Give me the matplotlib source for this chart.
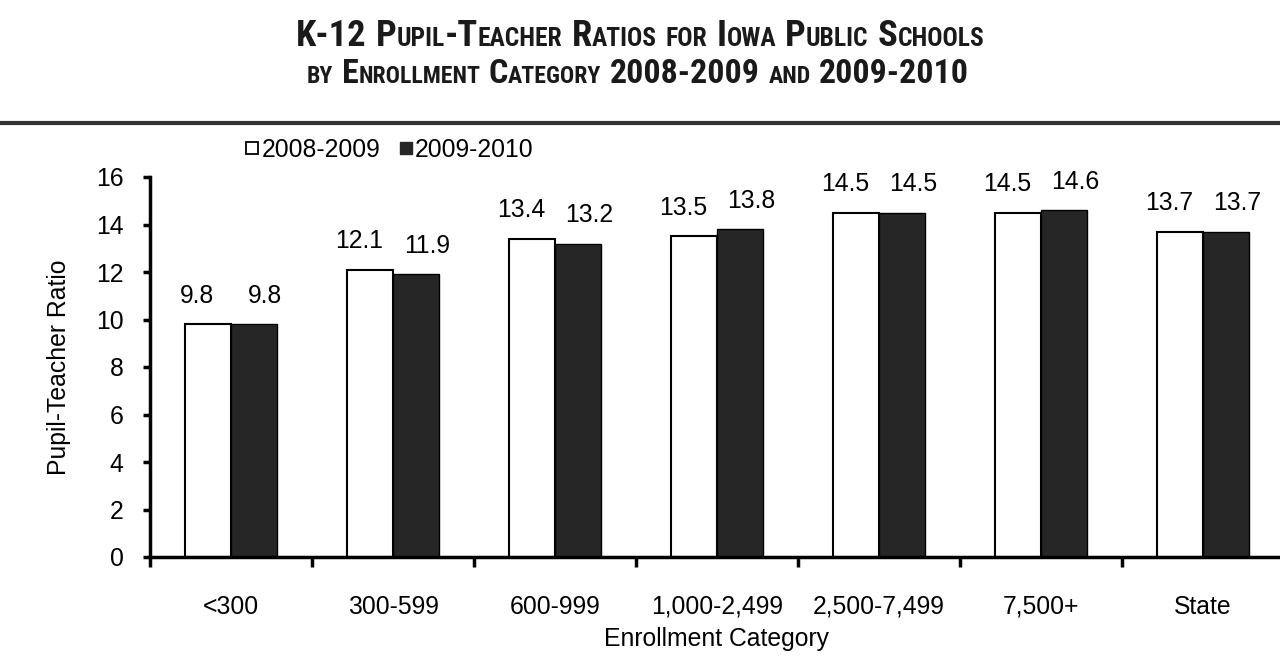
import matplotlib
matplotlib.use("Agg")
import matplotlib.pyplot as plt
import numpy as np
from matplotlib import font_manager
from matplotlib.font_manager import FontProperties
from matplotlib.lines import Line2D

categories = ["<300", "300-599", "600-999", "1,000-2,499", "2,500-7,499", "7,500+", "State"]
series_names = ["2008-2009", "2009-2010"]
vals_0809 = [9.8, 12.1, 13.4, 13.5, 14.5, 14.5, 13.7]
vals_0910 = [9.8, 11.9, 13.2, 13.8, 14.5, 14.6, 13.7]
yticks = [0, 2, 4, 6, 8, 10, 12, 14, 16]
title_lines = ["K-12 Pupil-Teacher Ratios for Iowa Public Schools",
               "by Enrollment Category 2008-2009 and 2009-2010"]

# pick a narrow bold font for the title if one exists
def find_narrow_bold():
    prefs = ["Liberation Sans Narrow", "Arial Narrow", "Roboto Condensed", "Open Sans Condensed",
             "Noto Sans Condensed", "DejaVu Sans Condensed", "DejaVu Sans"]
    cands = []
    for f in font_manager.fontManager.ttflist:
        w = f.weight if isinstance(f.weight, int) else (700 if "bold" in str(f.weight).lower() else 400)
        if w < 600 or "italic" in f.style or "oblique" in f.style:
            continue
        narrow = ("Narrow" in f.name or "Condensed" in f.name or
                  str(f.stretch) in ("condensed", "semi-condensed", "extra-condensed") or
                  "Condensed" in f.fname or "Narrow" in f.fname)
        if not narrow:
            continue
        rank = len(prefs)
        for i, p in enumerate(prefs):
            if f.name.startswith(p):
                rank = i
                break
        cands.append((rank, f.fname))
    if cands:
        cands.sort()
        return FontProperties(fname=cands[0][1])
    return FontProperties(family="Liberation Sans", weight="bold")

title_fp = find_narrow_bold()
body_font = "Liberation Sans"
plt.rcParams['font.family'] = [body_font, 'DejaVu Sans']

W, H = 1280, 671
fig = plt.figure(figsize=(W/100, H/100), dpi=100)
ax = fig.add_axes([150/W, 1-557/H, 1134/W, 380/H])

x = np.arange(len(categories))
bw = 0.285
dark = "#262626"
ax.bar(x - bw/2, vals_0809, width=bw, color="white", edgecolor="black", linewidth=1.5, zorder=2)
ax.bar(x + bw/2, vals_0910, width=bw, color=dark, edgecolor="black", linewidth=1.0, zorder=2)

fs = 17.8
for xi, v in zip(x - bw/2, vals_0809):
    ax.annotate(f"{v:.1f}", (xi, v), xytext=(-8, 12), textcoords="offset points",
                ha="center", va="bottom", fontsize=fs)
for xi, v in zip(x + bw/2, vals_0910):
    ax.annotate(f"{v:.1f}", (xi, v), xytext=(8, 12), textcoords="offset points",
                ha="center", va="bottom", fontsize=fs)

ax.set_xlim(-0.5, len(categories) - 0.5)
ax.set_ylim(0, 16)
ax.set_yticks(yticks)
ax.set_yticklabels([str(t) for t in yticks], fontsize=fs)
ax.set_xticks(np.arange(len(categories) + 1) - 0.5)
ax.set_xticklabels([])
ax.set_xticks(x, minor=True)
ax.set_xticklabels(categories, minor=True, fontsize=fs)
ax.tick_params(axis="x", which="minor", length=0, pad=27)
ax.tick_params(axis="x", which="major", length=7, width=2.5, direction="out")
ax.tick_params(axis="y", length=5, width=2.5, direction="out", pad=14)
for s in ["top", "right"]:
    ax.spines[s].set_visible(False)
ax.spines["left"].set_linewidth(2.5)
ax.spines["bottom"].set_linewidth(2.5)
ax.spines["bottom"].set_zorder(3)
ax.set_ylabel("Pupil-Teacher Ratio", fontsize=fs, labelpad=18)
ax.set_xlabel("Enrollment Category", fontsize=fs, labelpad=6)

handles = [Line2D([], [], marker="s", linestyle="none", markersize=8.8, markerfacecolor="white",
                  markeredgecolor="black", markeredgewidth=1.3),
           Line2D([], [], marker="s", linestyle="none", markersize=8.8, markerfacecolor=dark,
                  markeredgecolor=dark)]
fig.legend(handles, series_names, loc="center left", bbox_to_anchor=(246/W, 1-150/H), ncol=2,
           frameon=False, fontsize=fs, handlelength=0.5, handletextpad=0.12, columnspacing=0.8,
           borderaxespad=0, borderpad=0)

# small caps title, fitted to the reference width
renderer = fig.canvas.get_renderer()
ratio = 0.70

def measure(s, size):
    t = fig.text(0, 0, s, fontproperties=title_fp)
    t.set_fontsize(size)
    bb = t.get_window_extent(renderer=renderer)
    t.remove()
    return bb.width

def runs_of(text):
    runs = []
    for ch in text:
        if ch == " ":
            sz = None
            c = ch
        elif ch.islower():
            sz = "s"
            c = ch.upper()
        else:
            sz = "b"
            c = ch
        if runs and runs[-1][1] == sz:
            runs[-1][0] += c
        else:
            runs.append([c, sz])
    return runs

def line_width(text, big):
    sizes = {"b": big, "s": big * ratio}
    tot = 0
    ws = []
    for s, k in runs_of(text):
        if k is None:
            w = big * 100/72 * 0.25 * len(s)
        else:
            w = measure(s, sizes[k])
        ws.append(w)
        tot += w
    return tot, ws

def smallcaps(text, ybase, target_width, cx=640):
    base = 20.0
    w0, _ = line_width(text, base)
    big = base * target_width / w0
    total, widths = line_width(text, big)
    sizes = {"b": big, "s": big * ratio}
    xx = cx - total/2
    for (s, k), w in zip(runs_of(text), widths):
        if k is not None:
            t = fig.text(xx/W, 1-ybase/H, s, fontproperties=title_fp,
                         ha="left", va="baseline", color="#1a1a1a")
            t.set_fontsize(sizes[k])
        xx += w

smallcaps(title_lines[0], 46, 690)
smallcaps(title_lines[1], 83, 663, cx=638)
fig.add_artist(Line2D([0, 1], [1-123/H, 1-123/H], transform=fig.transFigure, color="#333333", linewidth=3))

fig.savefig("out.png", dpi=100)
